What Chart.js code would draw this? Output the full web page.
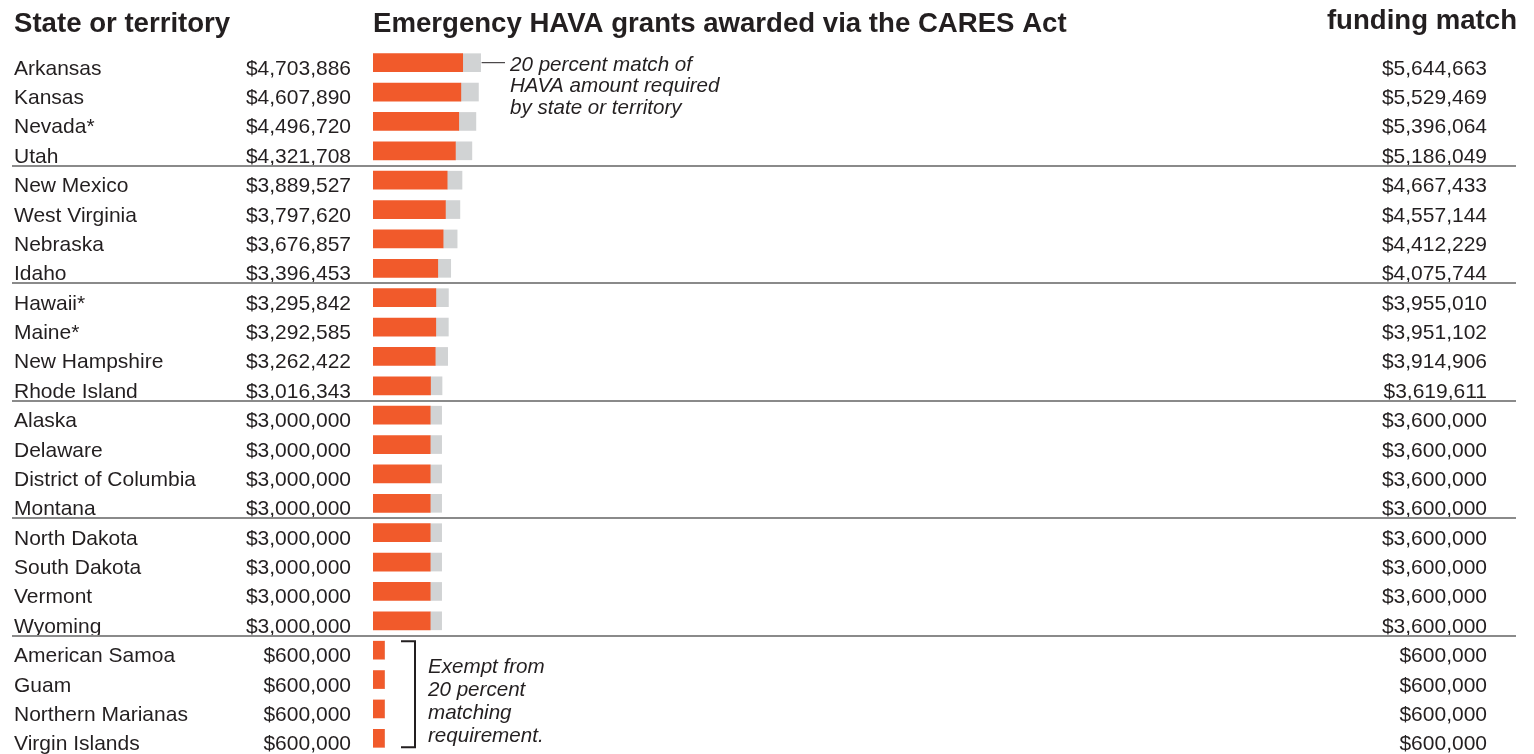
<!DOCTYPE html>
<html>
<head>
<meta charset="utf-8">
<script src="https://cdn.jsdelivr.net/npm/chart.js@4/dist/chart.umd.min.js"></script>
<style>
  html, body { margin: 0; padding: 0; background: #fff; }
  #wrap { width: 1534px; height: 754px; position: relative; }
</style>
</head>
<body>
<div id="wrap"><canvas id="hava-chart"></canvas></div>
<script>
const states = ['Arkansas', 'Kansas', 'Nevada*', 'Utah', 'New Mexico', 'West Virginia', 'Nebraska', 'Idaho',
  'Hawaii*', 'Maine*', 'New Hampshire', 'Rhode Island', 'Alaska', 'Delaware', 'District of Columbia', 'Montana',
  'North Dakota', 'South Dakota', 'Vermont', 'Wyoming', 'American Samoa', 'Guam', 'Northern Marianas', 'Virgin Islands'];
const grants = [4703886, 4607890, 4496720, 4321708, 3889527, 3797620, 3676857, 3396453,
  3295842, 3292585, 3262422, 3016343, 3000000, 3000000, 3000000, 3000000,
  3000000, 3000000, 3000000, 3000000, 600000, 600000, 600000, 600000];
const totals = [5644663, 5529469, 5396064, 5186049, 4667433, 4557144, 4412229, 4075744,
  3955010, 3951102, 3914906, 3619611, 3600000, 3600000, 3600000, 3600000,
  3600000, 3600000, 3600000, 3600000, 600000, 600000, 600000, 600000];
// the grey part of each bar is what the state has to add
const matches = totals.map((t, i) => t - grants[i]);

const ink = '#231f20';
const money = v => '$' + v.toLocaleString('en-US');

const tablePlugin = {
  id: 'tableText',
  afterDraw(chart) {
    const ctx = chart.ctx;
    const y = chart.scales.y;
    ctx.save();
    ctx.fillStyle = ink;
    ctx.textBaseline = 'alphabetic';

    // headers
    ctx.font = 'bold 27.6px "Liberation Sans", Arial, sans-serif';
    ctx.textAlign = 'left';
    ctx.fillText('State or territory', 14, 32);
    ctx.fillText('Emergency HAVA grants awarded via the CARES Act', 373, 32);
    ctx.textAlign = 'right';
    ctx.fillText('funding match', 1517, 29);

    // rows
    ctx.font = '21px "Liberation Sans", Arial, sans-serif';
    states.forEach((s, i) => {
      const py = y.getPixelForValue(i) + 12;
      ctx.textAlign = 'left';
      ctx.fillText(s, 14, py);
      ctx.textAlign = 'right';
      ctx.fillText(money(grants[i]), 351, py);
      ctx.fillText(money(totals[i]), 1487, py);
    });

    // group separators every four rows
    ctx.strokeStyle = '#8a8a8a';
    ctx.lineWidth = 2;
    for (let i = 4; i < states.length; i += 4) {
      const ly = Math.round((y.getPixelForValue(i - 1) + y.getPixelForValue(i)) / 2);
      ctx.beginPath();
      ctx.moveTo(12, ly);
      ctx.lineTo(1516, ly);
      ctx.stroke();
    }

    // note on the grey match
    const x = chart.scales.x;
    const y0 = y.getPixelForValue(0);
    ctx.strokeStyle = ink;
    ctx.lineWidth = 1;
    ctx.beginPath();
    ctx.moveTo(x.getPixelForValue(totals[0]) + 1, y0);
    ctx.lineTo(505, y0);
    ctx.stroke();
    ctx.font = 'italic 20.6px "Liberation Sans", Arial, sans-serif';
    ctx.textAlign = 'left';
    ['20 percent match of', 'HAVA amount required', 'by state or territory'].forEach((t, k) => {
      ctx.fillText(t, 510, y0 + 8 + k * 21.5);
    });

    // bracket round the territories
    const top = y.getPixelForValue(20) - 9;
    const bot = y.getPixelForValue(23) + 9;
    ctx.lineWidth = 2;
    ctx.beginPath();
    ctx.moveTo(401, top);
    ctx.lineTo(415, top);
    ctx.lineTo(415, bot);
    ctx.lineTo(401, bot);
    ctx.stroke();
    ['Exempt from', '20 percent', 'matching', 'requirement.'].forEach((t, k) => {
      ctx.fillText(t, 428, top + 32 + k * 23);
    });
    ctx.restore();
  }
};

new Chart(document.getElementById('hava-chart'), {
  type: 'bar',
  data: {
    labels: states,
    datasets: [
      { label: 'HAVA grant', data: grants, backgroundColor: '#f15a2b', barThickness: 18 },
      { label: '20 percent match', data: matches, backgroundColor: '#d1d3d4', barThickness: 18 }
    ]
  },
  options: {
    indexAxis: 'y',
    responsive: true,
    maintainAspectRatio: false,
    animation: false,
    layout: { padding: { left: 373, right: 17, top: 48, bottom: 1 } },
    plugins: { legend: { display: false }, tooltip: { enabled: false } },
    scales: {
      x: { stacked: true, display: false, min: 0, max: 60000000 },
      y: { stacked: true, display: false }
    }
  },
  plugins: [tablePlugin]
});
</script>
</body>
</html>
